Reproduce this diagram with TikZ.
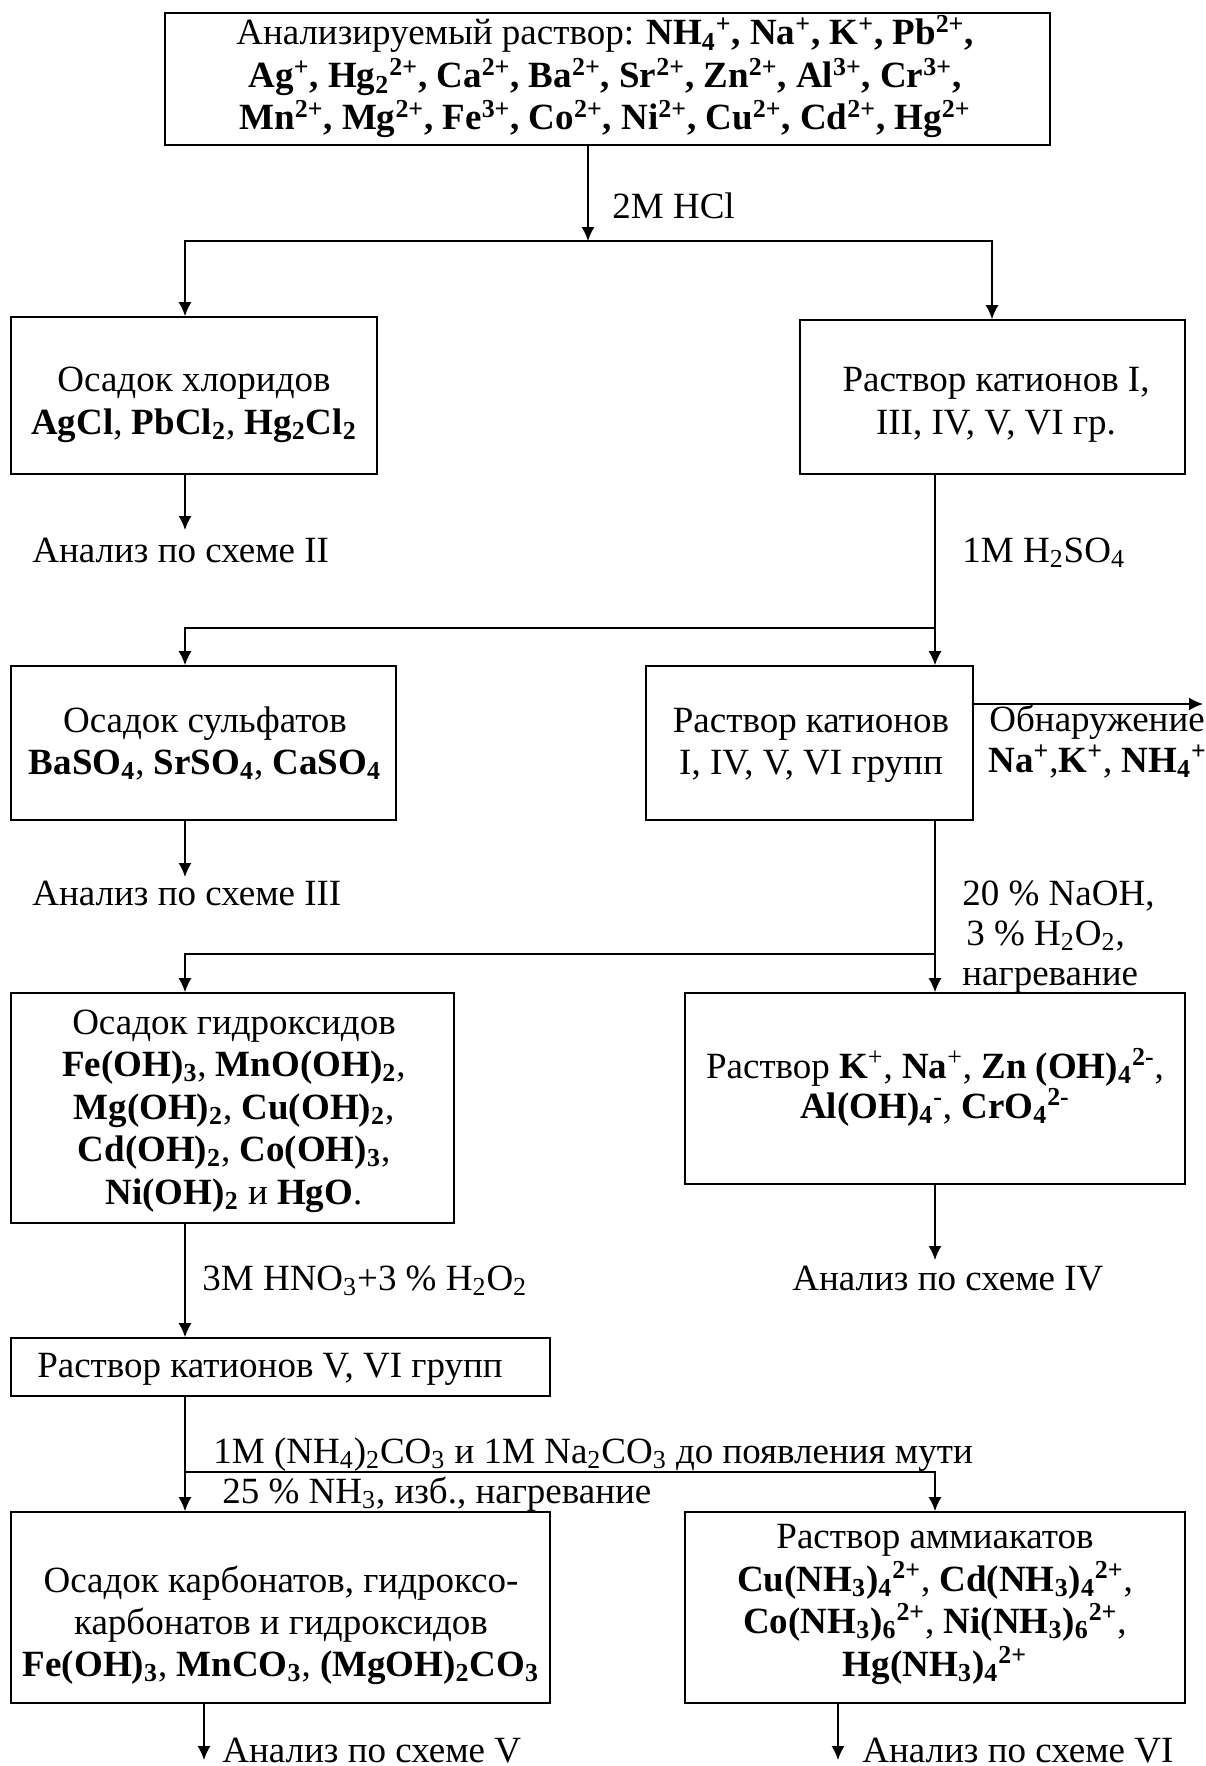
\documentclass[tikz,border=0pt]{standalone}
\usepackage{fontspec}
\setmainfont{Liberation Serif}
\usetikzlibrary{arrows.meta,fit}

% chemical sub- and superscripts
\newcommand{\chsub}[1]{\textsubscript{#1}}
\newcommand{\chsup}[1]{\textsuperscript{#1}}

\begin{document}
\begin{tikzpicture}[x=0.5pt,y=-0.5pt,
  font=\fontsize{18.5}{21.25}\selectfont,
  box/.style={draw, line width=0.8pt, inner sep=0pt},
  txt/.style={anchor=base, inner sep=0pt},
  lbl/.style={anchor=base west, inner sep=0pt},
  arr/.style={line width=0.8pt, -{Latex[length=7pt,width=6.5pt]}}]
\useasboundingbox (0,0) rectangle (1205,1766);

% ---------- boxes ----------
\node[box, fit={(165,13) (1050,145)}]   (top)  {};
\node[box, fit={(11,317) (377,474)}]    (chl)  {};
\node[box, fit={(800,320) (1185,474)}]  (r1)   {};
\node[box, fit={(11,666) (396,820)}]    (sulf) {};
\node[box, fit={(646,666) (973,820)}]   (mid)  {};
\node[box, fit={(11,993) (454,1223)}]   (hyd)  {};
\node[box, fit={(685,993) (1185,1184)}] (r2)   {};
\node[box, fit={(11,1338) (550,1396)}]  (vvi)  {};
\node[box, fit={(11,1512) (550,1703)}]  (carb) {};
\node[box, fit={(685,1512) (1185,1703)}] (amm) {};

% ---------- box texts ----------
\node[txt] (top1) at (605,45) {Анализируемый раствор: \textbf{NH\chsub{4}\chsup{+}, Na\chsup{+}, K\chsup{+}, Pb\chsup{2+},}};
\node[txt] (top2) at (605,88) {\textbf{Ag\chsup{+}, Hg\chsub{2}\chsup{2+}, Ca\chsup{2+}, Ba\chsup{2+}, Sr\chsup{2+}, Zn\chsup{2+}, Al\chsup{3+}, Cr\chsup{3+},}};
\node[txt] (top3) at (605,130) {\textbf{Mn\chsup{2+}, Mg\chsup{2+}, Fe\chsup{3+}, Co\chsup{2+}, Ni\chsup{2+}, Cu\chsup{2+}, Cd\chsup{2+}, Hg\chsup{2+}}};

\node[txt] (chl1) at (194,391) {Осадок хлоридов};
\node[txt] (chl2) at (194,434) {\textbf{AgCl}, \textbf{PbCl\chsub{2}}, \textbf{Hg\chsub{2}Cl\chsub{2}}};

\node[txt] (r1a) at (996,391) {Раствор катионов I,};
\node[txt] (r1b) at (996,434) {III, IV, V, VI гр.};

\node[txt] (sulf1) at (205,732) {Осадок сульфатов};
\node[txt] (sulf2) at (205,774) {\textbf{BaSO\chsub{4}}, \textbf{SrSO\chsub{4}}, \textbf{CaSO\chsub{4}}};

\node[txt] (mid1) at (811,732) {Раствор катионов};
\node[txt] (mid2) at (811,774) {I, IV, V, VI групп};

\node[txt] (hyd1) at (234,1034) {Осадок гидроксидов};
\node[txt] (hyd2) at (234,1076) {\textbf{Fe(OH)\chsub{3}}, \textbf{MnO(OH)\chsub{2}},};
\node[txt] (hyd3) at (234,1119) {\textbf{Mg(OH)\chsub{2}}, \textbf{Cu(OH)\chsub{2}},};
\node[txt] (hyd4) at (234,1161) {\textbf{Cd(OH)\chsub{2}}, \textbf{Co(OH)\chsub{3}},};
\node[txt] (hyd5) at (234,1204) {\textbf{Ni(OH)\chsub{2}} и \textbf{HgO}.};

\node[txt] (r2a) at (935,1078) {Раствор \textbf{K}\chsup{+}, \textbf{Na}\chsup{+}, \textbf{Zn (OH)\chsub{4}\chsup{2-}},};
\node[txt] (r2b) at (935,1118) {\textbf{Al(OH)\chsub{4}\chsup{-}}, \textbf{CrO\chsub{4}\chsup{2-}}};

\node[txt] (vvi1) at (270,1377) {Раствор катионов V, VI групп};

\node[txt] (carb1) at (281,1592) {Осадок карбонатов, гидроксо-};
\node[txt] (carb2) at (281,1634) {карбонатов и гидроксидов};
\node[txt] (carb3) at (281,1676) {\textbf{Fe(OH)\chsub{3}}, \textbf{MnCO\chsub{3}}, \textbf{(MgOH)\chsub{2}CO\chsub{3}}};

\node[txt] (amm1) at (935,1548) {Раствор аммиакатов};
\node[txt] (amm2) at (935,1591) {\textbf{Cu(NH\chsub{3})\chsub{4}\chsup{2+}}, \textbf{Cd(NH\chsub{3})\chsub{4}\chsup{2+}},};
\node[txt] (amm3) at (935,1633) {\textbf{Co(NH\chsub{3})\chsub{6}\chsup{2+}}, \textbf{Ni(NH\chsub{3})\chsub{6}\chsup{2+}},};
\node[txt] (amm4) at (935,1676) {\textbf{Hg(NH\chsub{3})\chsub{4}\chsup{2+}}};

% ---------- free-standing labels ----------
\node[lbl] (hcl)   at (612,218)  {2M HCl};
\node[lbl] (an2)   at (32,562)   {Анализ по схеме II};
\node[lbl] (hso)   at (962,562)  {1M H\chsub{2}SO\chsub{4}};
\node[lbl] (obn1)  at (989,731)  {Обнаружение};
\node[lbl] (obn2)  at (988,772)  {\textbf{Na\chsup{+}},\textbf{K\chsup{+}}, \textbf{NH\chsub{4}\chsup{+}}};
\node[lbl] (an3)   at (32,905)   {Анализ по схеме III};
\node[lbl] (naoh1) at (962,905)  {20 \% NaOH,};
\node[lbl] (naoh2) at (966,945)  {3 \% H\chsub{2}O\chsub{2},};
\node[lbl] (naoh3) at (962,985)  {нагревание};
\node[lbl] (hno)   at (202,1290) {3M HNO\chsub{3}+3 \% H\chsub{2}O\chsub{2}};
\node[lbl] (an4)   at (792,1290) {Анализ по схеме IV};
\node[lbl] (carbo) at (213,1463) {1M (NH\chsub{4})\chsub{2}CO\chsub{3} и 1M Na\chsub{2}CO\chsub{3} до появления мути};
\node[lbl] (nh3)   at (222,1503) {25 \% NH\chsub{3}, изб., нагревание};
\node[lbl] (an5)   at (222,1762) {Анализ по схеме V};
\node[lbl] (an6)   at (862,1762) {Анализ по схеме VI};

% ---------- connectors ----------
\coordinate (xL) at (185,0);
\coordinate (xR) at (992,0);
\coordinate (xM) at (935,0);

\coordinate (j1) at (588,241);
\draw[arr] (top.south -| j1) -- (j1);
\draw[arr] (j1) -| (chl.north -| xL);
\draw[arr] (j1) -| (r1.north -| xR);

\coordinate (e2) at (185,530);
\draw[arr] (chl.south -| xL) -- (e2);

\draw[arr] (r1.south -| xM) -- (mid.north -| xM);
\coordinate (j2) at (935,628);
\draw[arr] (j2) -| (sulf.north -| xL);

\coordinate (e3) at (185,877);
\draw[arr] (sulf.south -| xL) -- (e3);

\coordinate (eObn) at (1203,704);
\draw[arr] (mid.east |- eObn) -- (eObn);

\draw[arr] (mid.south -| xM) -- (r2.north -| xM);
\coordinate (j3) at (935,954);
\draw[arr] (j3) -| (hyd.north -| xL);

\coordinate (e4) at (935,1260);
\draw[arr] (r2.south -| xM) -- (e4);

\draw[arr] (hyd.south -| xL) -- (vvi.north -| xL);

\draw[arr] (vvi.south -| xL) -- (carb.north -| xL);
\coordinate (j4) at (185,1472);
\draw[arr] (j4) -| (amm.north -| xM);

\coordinate (e5) at (204,1760);
\draw[arr] (carb.south -| e5) -- (e5);
\coordinate (e6) at (838,1760);
\draw[arr] (amm.south -| e6) -- (e6);
\end{tikzpicture}
\end{document}
